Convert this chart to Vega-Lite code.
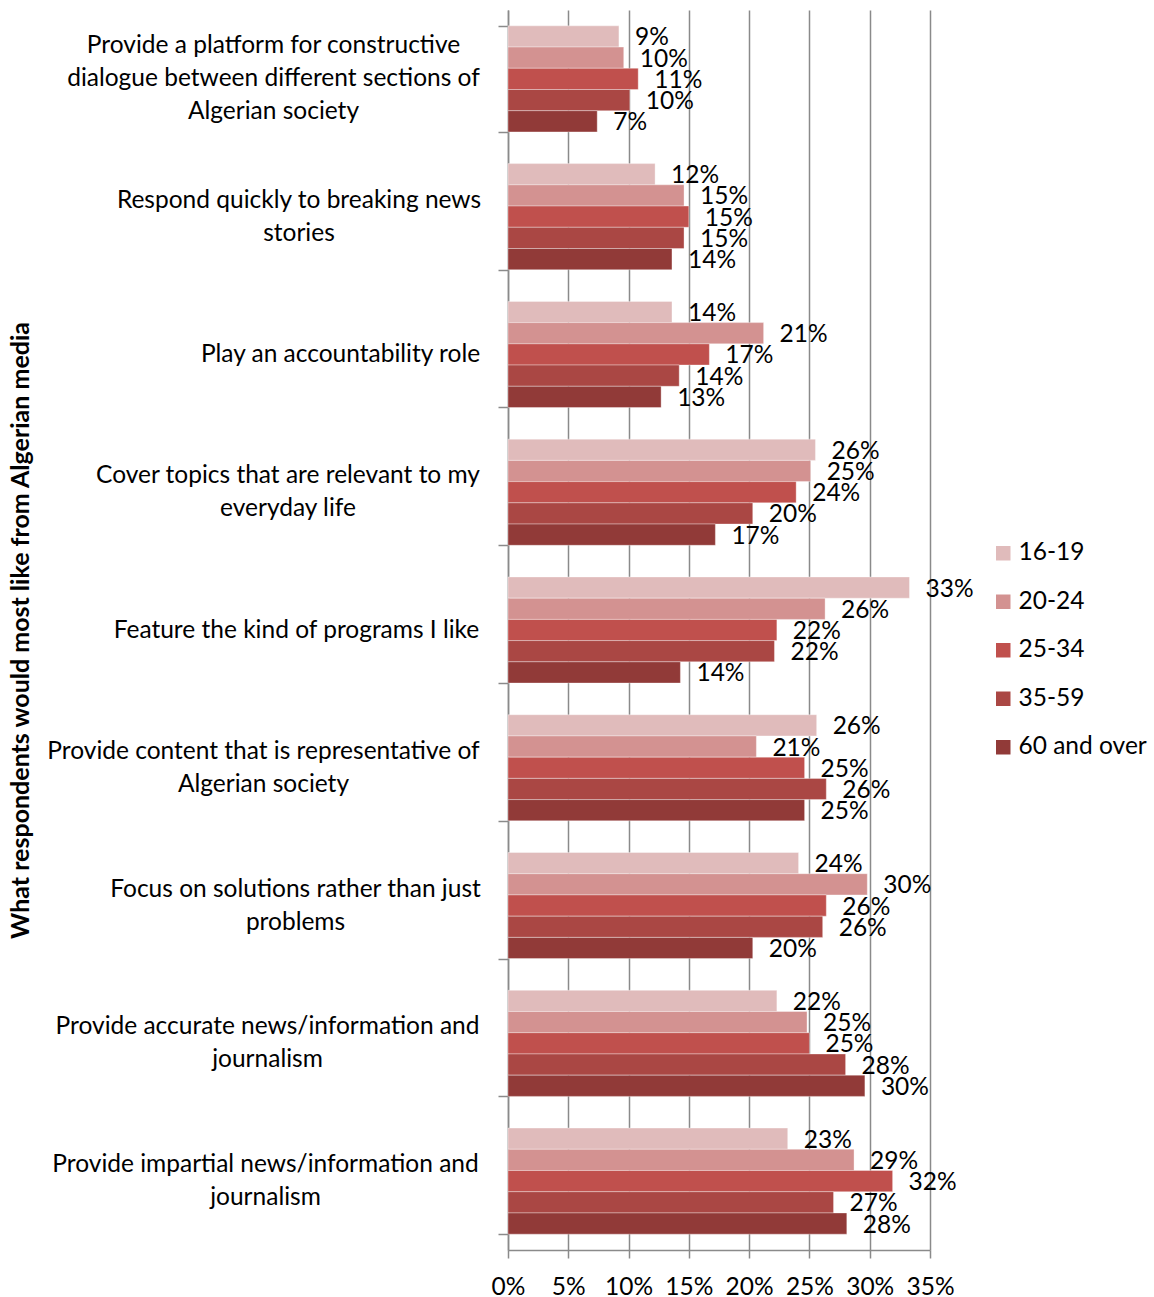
{
  "$schema": "https://vega.github.io/schema/vega-lite/v6.json",
  "width": 422,
  "height": 1240,
  "autosize": "none",
  "padding": {"left": 508, "top": 10, "right": 224, "bottom": 47},
  "background": "white",
  "config": {
    "font": "Lato",
    "view": {"stroke": null},
    "axis": {"labelFont": "Lato", "titleFont": "Lato", "labelColor": "#000000", "titleColor": "#000000"}
  },
  "data": {
    "values": [
      {"category": "Provide a platform for constructive dialogue between different sections of Algerian society", "age": "16-19", "value": 0.092},
      {"category": "Provide a platform for constructive dialogue between different sections of Algerian society", "age": "20-24", "value": 0.096},
      {"category": "Provide a platform for constructive dialogue between different sections of Algerian society", "age": "25-34", "value": 0.108},
      {"category": "Provide a platform for constructive dialogue between different sections of Algerian society", "age": "35-59", "value": 0.101},
      {"category": "Provide a platform for constructive dialogue between different sections of Algerian society", "age": "60 and over", "value": 0.074},
      {"category": "Respond quickly to breaking news stories", "age": "16-19", "value": 0.122},
      {"category": "Respond quickly to breaking news stories", "age": "20-24", "value": 0.146},
      {"category": "Respond quickly to breaking news stories", "age": "25-34", "value": 0.150},
      {"category": "Respond quickly to breaking news stories", "age": "35-59", "value": 0.146},
      {"category": "Respond quickly to breaking news stories", "age": "60 and over", "value": 0.136},
      {"category": "Play an accountability role", "age": "16-19", "value": 0.136},
      {"category": "Play an accountability role", "age": "20-24", "value": 0.212},
      {"category": "Play an accountability role", "age": "25-34", "value": 0.167},
      {"category": "Play an accountability role", "age": "35-59", "value": 0.142},
      {"category": "Play an accountability role", "age": "60 and over", "value": 0.127},
      {"category": "Cover topics that are relevant to my everyday life", "age": "16-19", "value": 0.255},
      {"category": "Cover topics that are relevant to my everyday life", "age": "20-24", "value": 0.251},
      {"category": "Cover topics that are relevant to my everyday life", "age": "25-34", "value": 0.239},
      {"category": "Cover topics that are relevant to my everyday life", "age": "35-59", "value": 0.203},
      {"category": "Cover topics that are relevant to my everyday life", "age": "60 and over", "value": 0.172},
      {"category": "Feature the kind of programs I like", "age": "16-19", "value": 0.333},
      {"category": "Feature the kind of programs I like", "age": "20-24", "value": 0.263},
      {"category": "Feature the kind of programs I like", "age": "25-34", "value": 0.223},
      {"category": "Feature the kind of programs I like", "age": "35-59", "value": 0.221},
      {"category": "Feature the kind of programs I like", "age": "60 and over", "value": 0.143},
      {"category": "Provide content that is representative of Algerian society", "age": "16-19", "value": 0.256},
      {"category": "Provide content that is representative of Algerian society", "age": "20-24", "value": 0.206},
      {"category": "Provide content that is representative of Algerian society", "age": "25-34", "value": 0.246},
      {"category": "Provide content that is representative of Algerian society", "age": "35-59", "value": 0.264},
      {"category": "Provide content that is representative of Algerian society", "age": "60 and over", "value": 0.246},
      {"category": "Focus on solutions rather than just problems", "age": "16-19", "value": 0.241},
      {"category": "Focus on solutions rather than just problems", "age": "20-24", "value": 0.298},
      {"category": "Focus on solutions rather than just problems", "age": "25-34", "value": 0.264},
      {"category": "Focus on solutions rather than just problems", "age": "35-59", "value": 0.261},
      {"category": "Focus on solutions rather than just problems", "age": "60 and over", "value": 0.203},
      {"category": "Provide accurate news/information and journalism", "age": "16-19", "value": 0.223},
      {"category": "Provide accurate news/information and journalism", "age": "20-24", "value": 0.248},
      {"category": "Provide accurate news/information and journalism", "age": "25-34", "value": 0.250},
      {"category": "Provide accurate news/information and journalism", "age": "35-59", "value": 0.280},
      {"category": "Provide accurate news/information and journalism", "age": "60 and over", "value": 0.296},
      {"category": "Provide impartial news/information and journalism", "age": "16-19", "value": 0.232},
      {"category": "Provide impartial news/information and journalism", "age": "20-24", "value": 0.287},
      {"category": "Provide impartial news/information and journalism", "age": "25-34", "value": 0.319},
      {"category": "Provide impartial news/information and journalism", "age": "35-59", "value": 0.270},
      {"category": "Provide impartial news/information and journalism", "age": "60 and over", "value": 0.281}
    ]
  },
  "encoding": {
    "y": {
      "field": "category",
      "type": "nominal",
      "sort": null,
      "scale": {"paddingInner": 0.23, "paddingOuter": 0.115},
      "axis": {
        "title": "What respondents would most like from Algerian media",
        "titleFontSize": 25,
        "titleFontWeight": "bold",
        "titleX": -488,
        "titleY": 620,
        "titleAngle": -90,
        "titleAlign": "center",
        "titleBaseline": "middle",
        "labelFontSize": 24.5,
        "labelLineHeight": 33,
        "labelAlign": "center",
        "labelBaseline": "middle",
        "labelLimit": 600,
        "labelPadding": {
          "condition": [
            {"test": "datum.value == 'Provide a platform for constructive dialogue between different sections of Algerian society'", "value": 225},
            {"test": "datum.value == 'Respond quickly to breaking news stories'", "value": 199.5},
            {"test": "datum.value == 'Play an accountability role'", "value": 158},
            {"test": "datum.value == 'Cover topics that are relevant to my everyday life'", "value": 210.5},
            {"test": "datum.value == 'Feature the kind of programs I like'", "value": 202},
            {"test": "datum.value == 'Provide content that is representative of Algerian society'", "value": 235},
            {"test": "datum.value == 'Focus on solutions rather than just problems'", "value": 203},
            {"test": "datum.value == 'Provide accurate news/information and journalism'", "value": 231}
          ],
          "value": 233
        },
        "labelOffset": {
          "condition": [
            {"test": "datum.value == 'Provide a platform for constructive dialogue between different sections of Algerian society'", "value": -33},
            {"test": "datum.value == 'Play an accountability role' || datum.value == 'Feature the kind of programs I like'", "value": 0}
          ],
          "value": -16.5
        },
        "tickBand": "extent",
        "tickSize": 10,
        "tickColor": "#8a8a8a",
        "tickWidth": 1.5,
        "domainColor": "#8a8a8a",
        "domainWidth": 1.5,
        "grid": false,
        "labelExpr": "datum.value == 'Provide a platform for constructive dialogue between different sections of Algerian society' ? ['Provide a platform for constructive', 'dialogue between different sections of', 'Algerian society'] : datum.value == 'Respond quickly to breaking news stories' ? ['Respond quickly to breaking news', 'stories'] : datum.value == 'Cover topics that are relevant to my everyday life' ? ['Cover topics that are relevant to my', 'everyday life'] : datum.value == 'Provide content that is representative of Algerian society' ? ['Provide content that is representative of', 'Algerian society'] : datum.value == 'Focus on solutions rather than just problems' ? ['Focus on solutions rather than just', 'problems'] : datum.value == 'Provide accurate news/information and journalism' ? ['Provide accurate news/information and', 'journalism'] : datum.value == 'Provide impartial news/information and journalism' ? ['Provide impartial news/information and', 'journalism'] : datum.value"
      }
    },
    "yOffset": {
      "field": "age",
      "type": "nominal",
      "sort": ["16-19", "20-24", "25-34", "35-59", "60 and over"],
      "scale": {"paddingInner": 0, "paddingOuter": 0}
    },
    "x": {
      "field": "value",
      "type": "quantitative",
      "scale": {"domain": [0, 0.35], "nice": false, "zero": true},
      "axis": {
        "title": null,
        "format": ".0%",
        "values": [0, 0.05, 0.1, 0.15, 0.2, 0.25, 0.3, 0.35],
        "labelFontSize": 24.5,
        "labelPadding": 17,
        "tickSize": 8,
        "tickColor": "#8a8a8a",
        "tickWidth": 1.5,
        "domainColor": "#8a8a8a",
        "domainWidth": 1.5,
        "grid": true,
        "gridColor": "#8a8a8a",
        "gridWidth": 1.5,
        "labelFlush": false
      }
    }
  },
  "layer": [
    {
      "mark": {"type": "bar", "stroke": "#ffffff", "strokeOpacity": 0.35, "strokeWidth": 1},
      "encoding": {
        "color": {
          "field": "age",
          "type": "nominal",
          "scale": {
            "domain": ["16-19", "20-24", "25-34", "35-59", "60 and over"],
            "range": ["#E0BBBB", "#D39291", "#C0504D", "#AA4744", "#913A38"]
          },
          "legend": {
            "orient": "none",
            "legendX": 483,
            "legendY": 531,
            "title": null,
            "symbolType": "square",
            "symbolSize": 210,
            "symbolStrokeWidth": 0,
            "labelFontSize": 24.5,
            "labelFont": "Lato",
            "labelColor": "#000000",
            "labelOffset": 3,
            "rowPadding": 23.5
          }
        }
      }
    },
    {
      "mark": {"type": "text", "align": "left", "baseline": "middle", "dx": 16, "dy": 2, "fontSize": 24.5, "font": "Lato", "color": "#000000"},
      "encoding": {
        "text": {"field": "value", "type": "quantitative", "format": ".0%"}
      }
    }
  ]
}
